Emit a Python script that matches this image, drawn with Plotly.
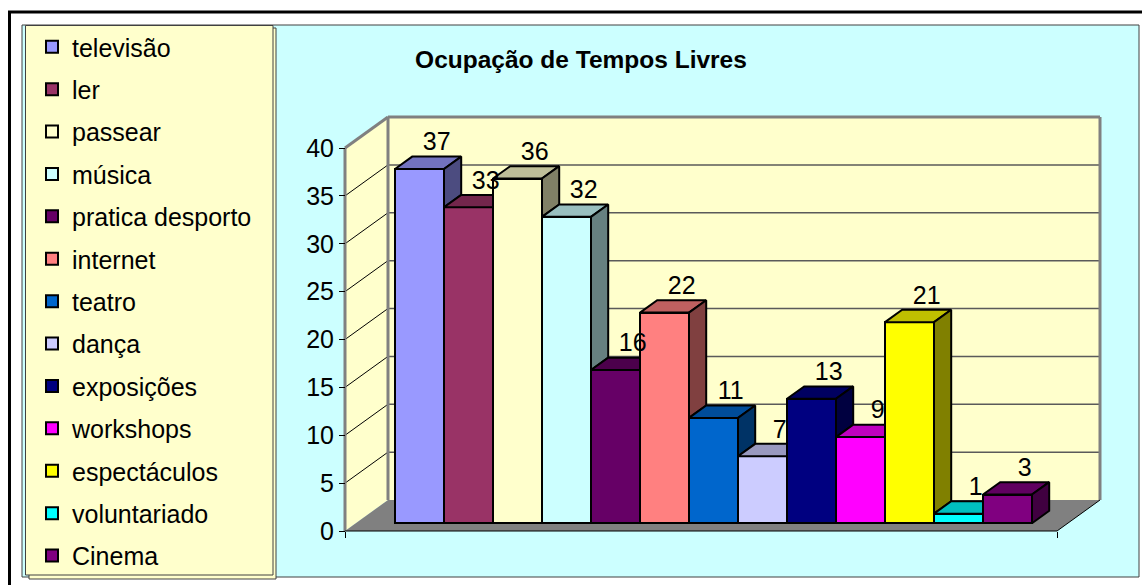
import plotly.graph_objects as go

# ---------------- data ----------------
categories = ["televisão", "ler", "passear", "música", "pratica desporto", "internet",
              "teatro", "dança", "exposições", "workshops", "espectáculos",
              "voluntariado", "Cinema"]
values = [37, 33, 36, 32, 16, 22, 11, 7, 13, 9, 21, 1, 3]
colors = ["#9999FF", "#993366", "#FFFFCC", "#CCFFFF", "#660066", "#FF8080",
          "#0066CC", "#CCCCFF", "#000080", "#FF00FF", "#FFFF00", "#00FFFF", "#800080"]
y_ticks = [0, 5, 10, 15, 20, 25, 30, 35, 40]
title_text = "Ocupação de Tempos Livres"

# ---------------- layout / projection constants ----------------
FIG_W, FIG_H = 1142, 585
PL, PR, PT, PB = 338, 1106, 108, 540      # plot area in px
CAT_PX = 49.0                             # px per category
VAL_PX = 9.575                            # px per value unit
X0_PX = 408.75                            # px of x = 0
Y0_PX = 531.0                             # px of y = 0
FONT = "Arial, Liberation Sans, sans-serif"


def xv(px):
    return (px - X0_PX) / CAT_PX


def yv(py):
    return (Y0_PX - py) / VAL_PX


def paper_x(px):
    return (px - PL) / (PR - PL)


def paper_y(py):
    return (PB - py) / (PB - PT)


x_range = [xv(PL), xv(PR)]
y_range = [yv(PB), yv(PT)]

XA = xv(345)        # front-left corner of floor / side wall
XF = xv(1057)       # front-right corner of floor
DX = 43 / CAT_PX    # floor depth (x)
DY = 31 / VAL_PX    # floor depth (y)
SB = 0.25           # set-back of the bars in the floor depth
BD = 0.40           # bar depth as fraction of floor depth
bdx, bdy = BD * DX, BD * DY
base = SB * DY
YMAX = y_ticks[-1]


def shade(hex_color, f):
    h = hex_color.lstrip("#")
    r, g, b = (int(h[k:k + 2], 16) for k in (0, 2, 4))
    return "rgb(%d,%d,%d)" % (round(r * f), round(g * f), round(b * f))


fig = go.Figure()

# front faces (real bar traces, one per category for the legend)
for i, (cat, v, c) in enumerate(zip(categories, values, colors)):
    fig.add_trace(go.Bar(
        x=[i + SB * DX], y=[v], base=[base], width=1.0,
        marker=dict(color=c, line=dict(color="black", width=2)),
        name=cat, legendgroup=cat, hoverinfo="name+y"))

# top and side faces, clipped by the next bar
n = len(values)
for i, (v, c) in enumerate(zip(values, colors)):
    xl = i + SB * DX - 0.5
    xr = xl + 1.0
    T = base + v
    Hn = base + values[i + 1] if i + 1 < n else base
    Hc = min(max(Hn, T), T + bdy)
    tx = [xl, xl + bdx, xr + bdx * (T + bdy - Hc) / bdy, xr, xr, xl]
    ty = [T, T + bdy, T + bdy, Hc, T, T]
    fig.add_trace(go.Scatter(x=tx, y=ty, mode="lines", fill="toself",
                             fillcolor=shade(c, 0.75),
                             line=dict(color="black", width=2),
                             showlegend=False, hoverinfo="skip"))
    lvl = max(base, Hn)
    if lvl < T:
        sx = [xr, xr + bdx, xr + bdx, xr, xr]
        sy = [lvl, lvl + bdy, T + bdy, T, lvl]
        fig.add_trace(go.Scatter(x=sx, y=sy, mode="lines", fill="toself",
                                 fillcolor=shade(c, 0.5),
                                 line=dict(color="black", width=2),
                                 showlegend=False, hoverinfo="skip"))

# data labels
fig.add_trace(go.Scatter(
    x=[i + SB * DX + bdx for i in range(n)],
    y=[base + v + bdy for v in values],
    text=[str(v) for v in values], mode="text", textposition="top center",
    textfont=dict(family=FONT, size=25, color="black"),
    cliponaxis=False, showlegend=False, hoverinfo="skip"))

# ---------------- decorations (walls, floor, frames) ----------------
shapes = []
# outer black frame (continues past the page on right/bottom)
shapes.append(dict(type="rect", xref="paper", yref="paper",
                   x0=paper_x(9.5), x1=paper_x(1160), y0=paper_y(12), y1=paper_y(600),
                   line=dict(color="black", width=3), fillcolor="white", layer="below"))
# chart area
shapes.append(dict(type="rect", xref="paper", yref="paper",
                   x0=paper_x(22), x1=paper_x(1139), y0=paper_y(25), y1=paper_y(577),
                   line=dict(color="#404040", width=1), fillcolor="#CCFFFF", layer="below"))
# legend box with shadow
shapes.append(dict(type="rect", xref="paper", yref="paper",
                   x0=paper_x(29), x1=paper_x(276), y0=paper_y(28), y1=paper_y(579),
                   line=dict(color="#404040", width=1), fillcolor="#FFFFCC", layer="below"))
shapes.append(dict(type="rect", xref="paper", yref="paper",
                   x0=paper_x(25.5), x1=paper_x(273), y0=paper_y(25.5), y1=paper_y(575),
                   line=dict(color="#404040", width=1), fillcolor="#FFFFCC", layer="below"))
# side wall
shapes.append(dict(type="path", xref="x", yref="y", layer="below",
                   path="M%f,%f L%f,%f L%f,%f L%f,%f Z" % (XA, 0, XA + DX, DY, XA + DX, YMAX + DY, XA, YMAX),
                   fillcolor="#FFFFCC", line=dict(width=0)))
# back wall
shapes.append(dict(type="rect", xref="x", yref="y", layer="below",
                   x0=XA + DX, x1=XF + DX, y0=DY, y1=YMAX + DY,
                   fillcolor="#FFFFCC", line=dict(width=0)))
# floor
shapes.append(dict(type="path", xref="x", yref="y", layer="below",
                   path="M%f,%f L%f,%f L%f,%f L%f,%f Z" % (XA, 0, XF, 0, XF + DX, DY, XA + DX, DY),
                   fillcolor="#808080", line=dict(width=0)))
# gridlines on back wall and side wall
for t in y_ticks[1:-1]:
    shapes.append(dict(type="line", xref="x", yref="y", layer="below",
                       x0=XA + DX, x1=XF + DX, y0=t + DY, y1=t + DY,
                       line=dict(color="#5a5a5a", width=1.5)))
    shapes.append(dict(type="line", xref="x", yref="y", layer="below",
                       x0=XA, x1=XA + DX, y0=t, y1=t + DY,
                       line=dict(color="black", width=1)))
# wall borders (gray)
for (a, b, c2, d) in [(XA, 0, XA, YMAX), (XA, YMAX, XA + DX, YMAX + DY),
                      (XA + DX, DY, XA + DX, YMAX + DY),
                      (XA + DX, YMAX + DY, XF + DX, YMAX + DY),
                      (XF + DX, DY, XF + DX, YMAX + DY)]:
    shapes.append(dict(type="line", xref="x", yref="y", layer="below",
                       x0=a, y0=b, x1=c2, y1=d, line=dict(color="#808080", width=3)))
# floor edges
shapes.append(dict(type="line", xref="x", yref="y", layer="below",
                   x0=XA, y0=0, x1=XF, y1=0, line=dict(color="black", width=1)))
shapes.append(dict(type="line", xref="x", yref="y", layer="below",
                   x0=XF, y0=0, x1=XF + DX, y1=DY, line=dict(color="black", width=1)))

fig.update_layout(
    width=FIG_W, height=FIG_H,
    margin=dict(l=PL, r=FIG_W - PR, t=PT, b=FIG_H - PB, pad=0),
    paper_bgcolor="white", plot_bgcolor="rgba(0,0,0,0)",
    barmode="overlay", bargap=0,
    shapes=shapes,
    font=dict(family=FONT, size=25, color="black"),
    title=dict(text="<b>" + title_text + "</b>", x=581 / FIG_W, y=1 - 59 / FIG_H,
               xanchor="center", yanchor="middle",
               font=dict(family=FONT, size=24.5, color="black")),
    legend=dict(x=paper_x(32), y=paper_y(24), xanchor="left", yanchor="top",
                bgcolor="rgba(0,0,0,0)", borderwidth=0, traceorder="grouped",
                tracegroupgap=6.9, maxheight=580,
                font=dict(family=FONT, size=25, color="black")),
    xaxis=dict(range=x_range, showgrid=False, zeroline=False, showline=False,
               tickvals=[XA, XF], showticklabels=False, ticks="outside", ticklen=6,
               tickcolor="black", anchor="free", position=paper_y(Y0_PX), fixedrange=True),
    yaxis=dict(range=y_range, tickvals=y_ticks, showgrid=False, zeroline=False,
               showline=False, ticks="outside", ticklen=6, tickcolor="black", tickwidth=1,
               anchor="free", position=paper_x(345),
               tickfont=dict(family=FONT, size=25, color="black"), fixedrange=True),
    showlegend=True,
)

fig.write_html("out.html", config={"displayModeBar": False},
               post_script="document.body.style.margin='0';")
